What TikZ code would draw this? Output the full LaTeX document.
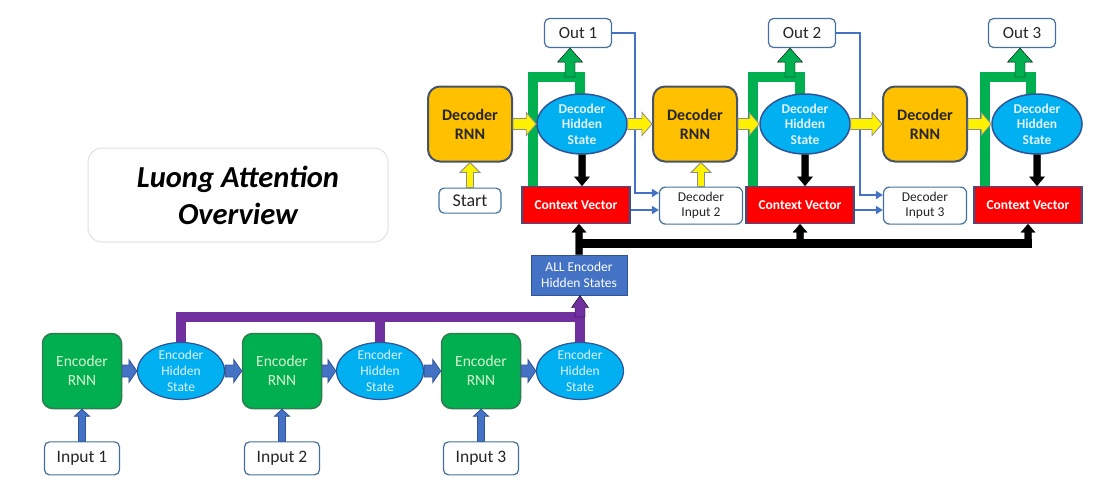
\documentclass[tikz,border=0pt]{standalone}
\usepackage{fontspec}
\setmainfont{Carlito}
\usepackage{tikz}
\usetikzlibrary{positioning,arrows.meta,calc,backgrounds,shapes.geometric}

\definecolor{rnnorange}{HTML}{FFC000}
\definecolor{rnngreen}{HTML}{00B050}
\definecolor{hidblue}{HTML}{00B0F0}
\definecolor{edgeblue}{HTML}{2F5597}
\definecolor{fillblue}{HTML}{4472C4}
\definecolor{buspurple}{HTML}{7030A0}
\definecolor{rnnedge}{HTML}{44546A}
\definecolor{encedge}{HTML}{2E7D4F}
\definecolor{enctext}{HTML}{D9F2D0}
\definecolor{hidtext}{HTML}{E3F1FA}
\definecolor{boxedge}{HTML}{41719C}

\newcommand{\nodefont}[2]{\fontsize{#1}{#2}\selectfont}

\begin{document}
\begin{tikzpicture}[
    x=1pt, y=-1pt,
    every node/.style={inner sep=0pt},
    fatarrow/.style args={#1/#2/#3}{
        to path={
            ($(\tikztostart)!#1!90:(\tikztotarget)$)
            -- ($(\tikztotarget)!#3!(\tikztostart)!#1!90:(\tikztotarget)$)
            -- ($(\tikztotarget)!#3!(\tikztostart)!#2!90:(\tikztotarget)$)
            -- (\tikztotarget)
            -- ($(\tikztotarget)!#3!(\tikztostart)!#2!-90:(\tikztotarget)$)
            -- ($(\tikztotarget)!#3!(\tikztostart)!#1!-90:(\tikztotarget)$)
            -- ($(\tikztostart)!#1!-90:(\tikztotarget)$)
            -- cycle
        }
    },
    whitebox/.style={
        draw=boxedge,
        line width=1.2pt,
        fill=white,
        rounded corners=5pt,
        align=center,
        text=black!85
    },
    titlebox/.style={
        draw=black!12,
        line width=1pt,
        rounded corners=14pt,
        minimum width=300pt,
        minimum height=94pt,
        align=center,
        font=\nodefont{30.5}{37}\bfseries\itshape
    },
    decrnn/.style={
        draw=rnnedge,
        line width=2pt,
        fill=rnnorange,
        rounded corners=12pt,
        minimum width=84pt,
        minimum height=75pt,
        align=center,
        text=black!85,
        font=\nodefont{16}{19}\bfseries
    },
    dechid/.style={
        ellipse,
        draw=edgeblue,
        line width=1.5pt,
        fill=hidblue,
        minimum width=90pt,
        minimum height=60pt,
        align=center,
        text=hidtext,
        font=\nodefont{13.5}{15.5}\bfseries
    },
    ctxvec/.style={
        draw=edgeblue,
        line width=1.5pt,
        fill=red,
        minimum width=108pt,
        minimum height=37pt,
        text=white,
        font=\nodefont{13.5}{15}\bfseries
    },
    outbox/.style={whitebox, minimum width=67pt, minimum height=29pt, font=\nodefont{17}{19}},
    startbox/.style={whitebox, minimum width=62pt, minimum height=25pt, font=\nodefont{18}{20}},
    decin/.style={whitebox, rounded corners=6pt, minimum width=83pt, minimum height=37pt, font=\nodefont{13.5}{15}},
    inbox/.style={whitebox, minimum width=75pt, minimum height=33pt, font=\nodefont{17.5}{19}},
    encrnn/.style={
        draw=encedge,
        line width=1.5pt,
        fill=rnngreen,
        rounded corners=10pt,
        minimum width=79pt,
        minimum height=75pt,
        align=center,
        text=enctext,
        font=\nodefont{15.5}{19}
    },
    enchid/.style={
        ellipse,
        draw=edgeblue,
        line width=1.2pt,
        fill=hidblue,
        minimum width=87pt,
        minimum height=57pt,
        inner ysep=-2.5pt,
        align=center,
        text=hidtext,
        font=\nodefont{13.5}{16}
    },
    allenc/.style={
        draw=edgeblue,
        line width=1pt,
        fill=fillblue,
        minimum width=96pt,
        minimum height=40pt,
        align=center,
        text=white,
        font=\nodefont{13.5}{15.5}
    },
    greenline/.style={draw=rnngreen, line width=10pt},
    purpleline/.style={draw=buspurple, line width=10pt},
    blackline/.style={draw=black, line width=9pt},
    bluethin/.style={draw=fillblue, line width=2pt, -{Triangle[length=7pt,width=8pt]}},
    yellowfat/.style={fatarrow=#1, fill=yellow, draw=black!45, line width=0.8pt},
    bluefat/.style={fatarrow=#1, fill=fillblue, draw=edgeblue, line width=0.8pt},
    blackfat/.style={fatarrow=#1, fill=black},
    greenfat/.style={fatarrow=#1, fill=rnngreen},
    purplefat/.style={fatarrow=#1, fill=buspurple}
]

\useasboundingbox (0,0) rectangle (1107,493);

\node[titlebox] (title) at (238,195) {Luong Attention\\Overview};

\node[decrnn] (decrnn1) at (470,124) {Decoder\\RNN};
\node[dechid] (dechid1) at (582,124) {Decoder\\Hidden\\State};
\node[decrnn] (decrnn2) at (695,124) {Decoder\\RNN};
\node[dechid] (dechid2) at (805,124) {Decoder\\Hidden\\State};
\node[decrnn] (decrnn3) at (925,124) {Decoder\\RNN};
\node[dechid] (dechid3) at (1037,124) {Decoder\\Hidden\\State};

\node[outbox] (out1) at (578,33) {Out 1};
\node[outbox] (out2) at (802,33) {Out 2};
\node[outbox] (out3) at (1022,33) {Out 3};

\node[ctxvec] (ctx1) at (576,205) {Context Vector};
\node[ctxvec] (ctx2) at (800,205) {Context Vector};
\node[ctxvec] (ctx3) at (1028,205) {Context Vector};

\node[startbox, below=25pt of decrnn1] (start) {Start};
\node[decin, below=24pt of decrnn2, xshift=6pt] (decin2) {Decoder\\Input 2};
\node[decin, below=24pt of decrnn3] (decin3) {Decoder\\Input 3};

\node[allenc] (allenc) at (579,275) {ALL Encoder\\Hidden States};

\node[encrnn] (encrnn1) at (82,371) {Encoder\\RNN};
\node[enchid] (enchid1) at (181,371) {Encoder\\Hidden\\State};
\node[encrnn] (encrnn2) at (282,371) {Encoder\\RNN};
\node[enchid] (enchid2) at (380,371) {Encoder\\Hidden\\State};
\node[encrnn] (encrnn3) at (481,371) {Encoder\\RNN};
\node[enchid] (enchid3) at (580,371) {Encoder\\Hidden\\State};

\node[inbox, below=32pt of encrnn1] (in1) {Input 1};
\node[inbox, below=32pt of encrnn2] (in2) {Input 2};
\node[inbox, below=32pt of encrnn3] (in3) {Input 3};

\coordinate (gl1) at (533,77);
\coordinate (gr1) at (580,77);
\coordinate (ga1) at (570,77);
\coordinate (gl2) at (753,77);
\coordinate (gr2) at (800,77);
\coordinate (ga2) at (790,77);
\coordinate (gl3) at (985,77);
\coordinate (gr3) at (1031,77);
\coordinate (ga3) at (1020,77);
\coordinate (bl1) at (635,193);
\coordinate (bl2) at (860,195);
\coordinate (bus) at (0,243);
\coordinate (pbus) at (0,317);

\begin{scope}[on background layer]
\draw[greenline] (ctx1.north -| gl1) -- (gl1) -- (gr1) -- (gr1 |- dechid1.center);
\draw[greenline] (ctx2.north -| gl2) -- (gl2) -- (gr2) -- (gr2 |- dechid2.center);
\draw[greenline] (ctx3.north -| gl3) -- (gl3) -- (gr3) -- (gr3 |- dechid3.center);
\draw[purpleline] (enchid1.center) -- (enchid1.center |- pbus) -- (enchid3.center |- pbus) -- (enchid3.center);
\draw[purpleline] (enchid2.center) -- (enchid2.center |- pbus);
\end{scope}

\draw[greenfat=5pt/12.5pt/14pt] (ga1) to (ga1 |- out1.south);
\draw[greenfat=5pt/12.5pt/14pt] (ga2) to (ga2 |- out2.south);
\draw[greenfat=5pt/12.5pt/14pt] (ga3) to (ga3 |- out3.south);

\draw[purplefat=5pt/8.5pt/12pt] (enchid3.center |- pbus) to (allenc.south -| enchid3.center);

\draw[blackline] (allenc.north |- bus) -- ([xshift=4pt]ctx3.south |- bus);
\draw[blackfat=3.5pt/7pt/8pt] (allenc.north) to (allenc.north |- ctx1.south);
\draw[blackfat=3.5pt/7pt/8pt] (ctx2.south |- bus) to (ctx2.south);
\draw[blackfat=3.5pt/7pt/8pt] (ctx3.south |- bus) to (ctx3.south);

\draw[blackfat=3.5pt/7.5pt/9pt] (dechid1.south) to (dechid1.south |- ctx1.north);
\draw[blackfat=3.5pt/7.5pt/9pt] (dechid2.south) to (dechid2.south |- ctx2.north);
\draw[blackfat=3.5pt/7.5pt/9pt] (dechid3.south) to (dechid3.south |- ctx3.north);

\draw[bluethin] (out1.east) -| (bl1) -- (bl1 -| decin2.west);
\draw[bluethin] ([yshift=-5pt]ctx1.east) -- ([yshift=-5pt]ctx1.east -| decin2.west);
\draw[bluethin] (out2.east) -| (bl2) -- (bl2 -| decin3.west);
\draw[bluethin] ([yshift=-5pt]ctx2.east) -- ([yshift=-5pt]ctx2.east -| decin3.west);

\draw[yellowfat=5.5pt/11.5pt/10pt] (decrnn1.east) to (dechid1.west);
\draw[yellowfat=5.5pt/11.5pt/10pt] (dechid1.east) to (decrnn2.west);
\draw[yellowfat=5.5pt/11.5pt/10pt] (decrnn2.east) to (dechid2.west);
\draw[yellowfat=5.5pt/11.5pt/10pt] (dechid2.east) to (decrnn3.west);
\draw[yellowfat=5.5pt/11.5pt/10pt] (decrnn3.east) to (dechid3.west);
\draw[yellowfat=3.5pt/10pt/10pt] (start.north) to (start.north |- decrnn1.south);
\draw[yellowfat=3.5pt/10pt/10pt] (decin2.north) to (decin2.north |- decrnn2.south);

\draw[bluefat=3.5pt/7.5pt/7pt] (in1.north) to (encrnn1.south);
\draw[bluefat=3.5pt/7.5pt/7pt] (in2.north) to (encrnn2.south);
\draw[bluefat=3.5pt/7.5pt/7pt] (in3.north) to (encrnn3.south);
\draw[bluefat=6pt/11.5pt/8pt] (encrnn1.east) to (enchid1.west);
\draw[bluefat=6pt/11.5pt/8pt] (enchid1.east) to (encrnn2.west);
\draw[bluefat=6pt/11.5pt/8pt] (encrnn2.east) to (enchid2.west);
\draw[bluefat=6pt/11.5pt/8pt] (enchid2.east) to (encrnn3.west);
\draw[bluefat=6pt/11.5pt/8pt] (encrnn3.east) to (enchid3.west);

\end{tikzpicture}
\end{document}
